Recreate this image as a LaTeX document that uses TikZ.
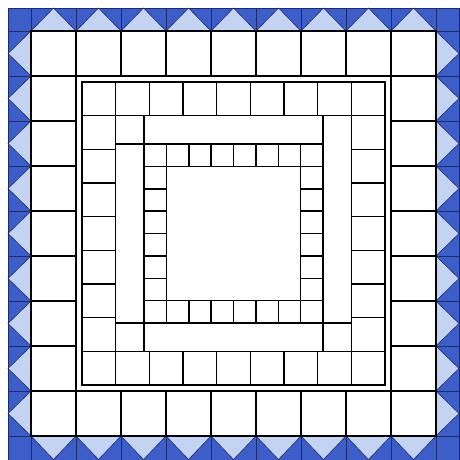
\documentclass[tikz,border=0pt]{standalone}
\definecolor{darkb}{HTML}{3D5DC8}
\definecolor{lightb}{HTML}{C4D3F2}
\definecolor{navy}{HTML}{1C2B6A}
\begin{document}
\begin{tikzpicture}[x=1pt,y=-1pt,
  seam/.style={draw=black,line width=1.5pt,line join=miter},
  bline/.style={draw=navy,line width=0.7pt},
  tri/.style={fill=lightb,draw=navy,line width=0.6pt}]
\useasboundingbox (0,0) rectangle (459,460);
\fill[white] (0,0) rectangle (459,460);
% ---------- blue border ----------
\fill[darkb] (8,8) rectangle (459,460);
\foreach \i in {0,...,8}{
  \pgfmathsetmacro\a{31+45*\i}
  % top
  \draw[tri] (\a,31) -- (\a+22.5,8) -- (\a+45,31) -- cycle;
  % bottom
  \draw[tri] (\a,436) -- (\a+22.5,459.5) -- (\a+45,436) -- cycle;
  % left
  \draw[tri] (31,\a) -- (8,\a+22.5) -- (31,\a+45) -- cycle;
  % right
  \draw[tri] (436,\a) -- (459,\a+22.5) -- (436,\a+45) -- cycle;
  % dividers
  \draw[bline] (\a,8) -- (\a,31);
  \draw[bline] (\a,436) -- (\a,460);
  \draw[bline] (8,\a) -- (31,\a);
  \draw[bline] (436,\a) -- (459,\a);
}
\draw[bline] (436,8) -- (436,31) (436,436) -- (436,460) (8,436) -- (31,436) (436,436) -- (459,436);
\draw[bline] (8,8) rectangle (459,460);
% ---------- inner field ----------
\fill[white] (31,31) rectangle (436,436);
% ring 1 (45 px squares)
\foreach \i in {0,...,8}{
  \pgfmathsetmacro\a{31+45*\i}
  \draw[seam] (\a,31) rectangle ++(45,45);
  \draw[seam] (\a,391) rectangle ++(45,45);
  \draw[seam] (31,\a) rectangle ++(45,45);
  \draw[seam] (391,\a) rectangle ++(45,45);
}
% narrow frame
\draw[seam] (76,76) rectangle (391,391);
% ring 2 (9 squares from 82 to 385)
\foreach \i in {0,...,8}{
  \pgfmathsetmacro\a{82+303/9*\i}
  \draw[seam] (\a,82) rectangle ++(303/9,303/9);
  \draw[seam] (\a,385-303/9) rectangle ++(303/9,303/9);
  \draw[seam] (82,\a) rectangle ++(303/9,303/9);
  \draw[seam] (385-303/9,\a) rectangle ++(303/9,303/9);
}
% ring 3 (strips)
\pgfmathsetmacro\ra{82+303/9}
\pgfmathsetmacro\rb{385-303/9}
\draw[seam] (\ra,\ra) rectangle (\rb,\rb);
\draw[seam] (144,\ra) -- (144,\rb);
\draw[seam] (323,\ra) -- (323,\rb);
\draw[seam] (\ra,144) -- (323,144);
\draw[seam] (\ra,323) -- (\rb,323);
% ring 4 (8 small squares from 144 to 323)
\foreach \i in {0,...,7}{
  \pgfmathsetmacro\a{144+179/8*\i}
  \draw[seam] (\a,144) rectangle ++(179/8,179/8);
  \draw[seam] (\a,323-179/8) rectangle ++(179/8,179/8);
  \draw[seam] (144,\a) rectangle ++(179/8,179/8);
  \draw[seam] (323-179/8,\a) rectangle ++(179/8,179/8);
}
\end{tikzpicture}
\end{document}
